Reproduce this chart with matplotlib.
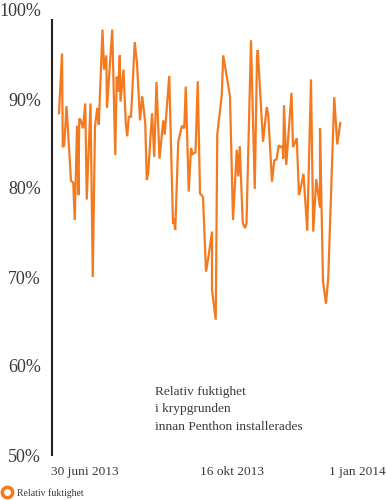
import matplotlib
matplotlib.use("Agg")
import matplotlib.pyplot as plt
from matplotlib.lines import Line2D

# Days since start of series
days = [0, 2, 2.5, 3.5, 5, 8, 9.5, 10.5, 12, 13, 13.5, 14.5, 16, 17.5, 18.5, 21, 22.5, 24, 25.5, 26.5,
        29, 30, 31.5, 32, 35.5, 37.5, 38.5, 39.5, 40.5, 41, 43, 44.5, 45.5, 46.5, 48, 50.5, 52, 54, 55.5, 57.5,
        58.5, 59.5, 62, 63.5, 65, 67, 69.5, 70.5, 73.5, 76, 76.5, 77.5, 79.5, 82, 83.5, 84.5, 86.5, 88, 89, 91,
        92.5, 94, 96, 98, 99.5, 102, 102, 104.5, 105.5, 108.5, 109.5, 114, 116, 118.5, 119.5, 120.5, 122.5, 124, 125, 128,
        130.5, 132, 132.5, 136, 138.5, 139.5, 142, 143.5, 145, 146.5, 147.5, 149, 149.5, 150, 151.5, 155, 156, 158.5,
        160, 161.5, 163, 165.5, 168, 169.5, 171.5, 174, 174, 176, 178, 179.5, 183.5, 185.5, 187.5]

humidity = [88.4, 95.1, 84.6, 84.8, 89.2, 80.8, 80.6, 76.4, 87.0, 79.2, 87.8, 87.6, 86.7, 89.5, 78.7, 89.5,
            70.0, 86.9, 89.0, 87.1, 97.8, 93.3, 94.9, 89.0, 97.8, 83.7, 92.5, 90.8, 94.9, 89.7, 93.3, 87.3,
            85.8, 88.0, 88.0, 96.4, 94.0, 87.6, 90.3, 87.3, 80.9, 81.7, 88.4, 83.5, 91.9, 83.3, 87.6, 86.0,
            92.6, 76.0, 76.6, 75.3, 85.2, 87.0, 86.7, 91.4, 79.6, 84.5, 83.8, 84.0, 92.0, 79.4, 79.0, 70.6,
            72.1, 75.1, 68.5, 65.2, 86.0, 90.4, 94.9, 90.3, 76.4, 84.3, 81.3, 84.7, 76.1, 75.5, 76.0, 96.6,
            79.9, 94.6, 95.5, 85.2, 89.1, 88.2, 80.7, 83.1, 83.2, 84.8, 84.6, 84.7, 83.3, 89.3, 82.6, 90.7,
            84.6, 85.6, 79.2, 80.3, 81.6, 75.2, 92.2, 75.1, 81.0, 77.8, 86.7, 69.5, 67.0, 69.9, 90.2, 84.9, 87.3]

y_ticks = [50, 60, 70, 80, 90, 100]
y_tick_labels = ["50%", "60%", "70%", "80%", "90%", "100%"]
x_tick_pos = [17.3, 115.3, 198.7]
x_tick_labels = ["30 juni 2013", "16 okt 2013", "1 jan 2014"]
series_name = "Relativ fuktighet"
note = "Relativ fuktighet\ni krypgrunden\ninnan Penthon installerades"

ORANGE = "#f47a20"
TEXT = "#3a3a3a"
plt.rcParams['font.family'] = ['Liberation Serif', 'DejaVu Serif']

W, H = 386, 500
fig = plt.figure(figsize=(W / 100, H / 100), dpi=100)
ax = fig.add_axes([52 / W, (H - 455) / H, (380 - 52) / W, (455 - 10) / H])

ax.plot(days, humidity, color=ORANGE, lw=1.6, solid_joinstyle='miter')

ax.set_ylim(50, 100)
ax.set_xlim(-4.67, 214)
ax.set_yticks(y_ticks)
ax.set_yticklabels(y_tick_labels, fontsize=13, color=TEXT)
ax.set_xticks(x_tick_pos)
ax.set_xticklabels(x_tick_labels, fontsize=9.6, color=TEXT)
ax.tick_params(axis='both', length=0)
ax.tick_params(axis='y', pad=8)
ax.tick_params(axis='x', pad=8)

for s in ['top', 'right', 'bottom']:
    ax.spines[s].set_visible(False)
ax.spines['left'].set_bounds(50, 98.9)
ax.spines['left'].set_color('#222222')
ax.spines['left'].set_linewidth(1.5)

fig.text(155 / W, 1 - 386 / H, note, fontsize=9.6, color=TEXT, va='top', ha='left',
         linespacing=1.6)

handle = Line2D([], [], color=ORANGE, lw=0, marker='o', markersize=7.5,
                markerfacecolor='white', markeredgecolor=ORANGE, markeredgewidth=2.5)
fig.legend([handle], [series_name], loc='center left', bbox_to_anchor=(2 / W, 1 - 493 / H),
           frameon=False, fontsize=7, handlelength=1.0, handletextpad=0.5, borderpad=0,
           borderaxespad=0, labelcolor=TEXT)

fig.savefig("out.png", dpi=100)
